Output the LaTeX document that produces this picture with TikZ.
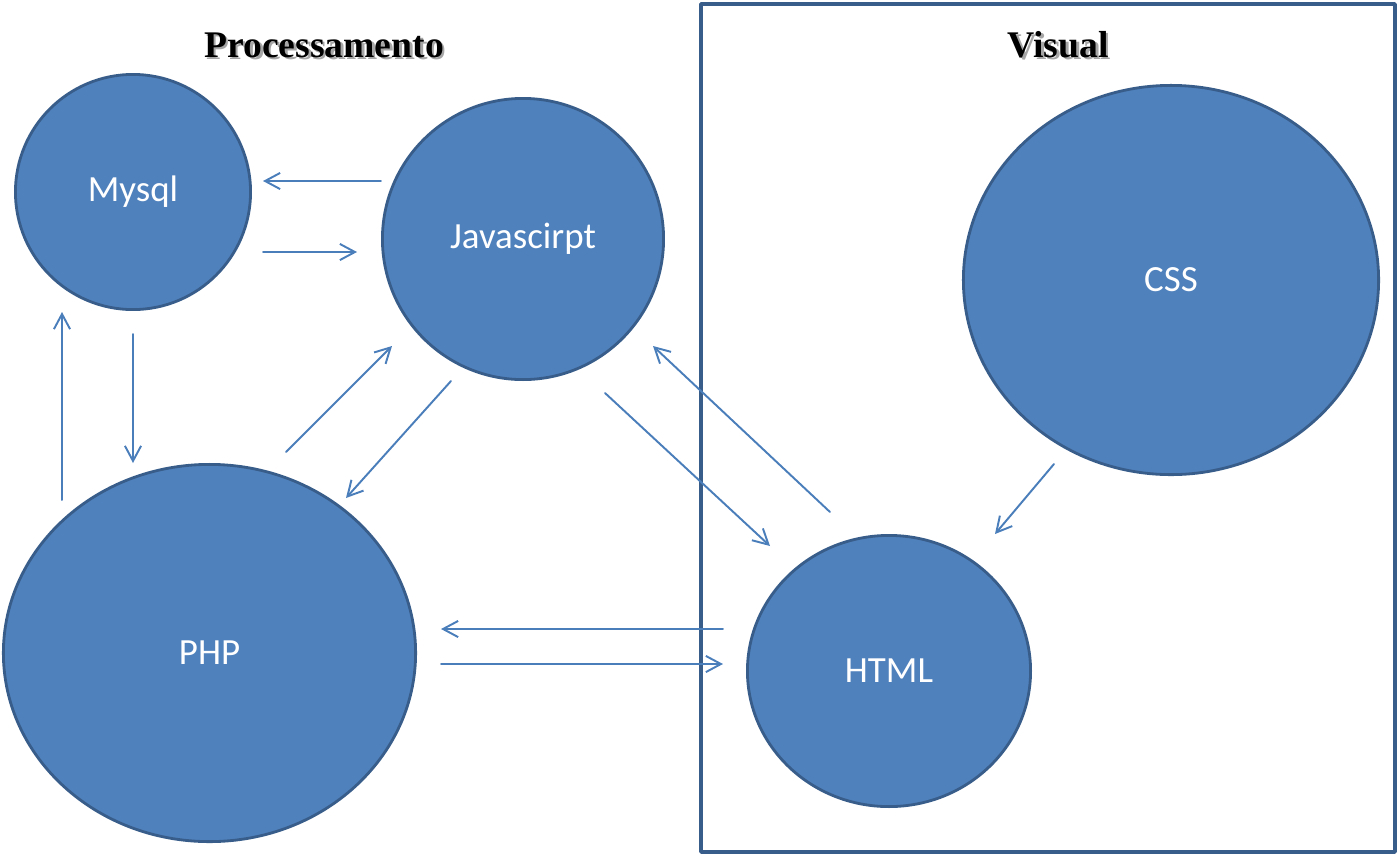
\documentclass[tikz,border=0pt]{standalone}
\usepackage{fontspec}
\setmainfont{Carlito}
\newfontfamily\titlefont{Liberation Serif}
\usepackage{xcolor}
\usepackage{tikz}
\usetikzlibrary{positioning,shapes.geometric,arrows.meta}

\definecolor{bubblefill}{HTML}{4F81BD}
\definecolor{bubbleline}{HTML}{385D8A}
\definecolor{flowline}{HTML}{4A7EBB}

% titulo com sombra
\newcommand\shadowtxt[1]{\makebox[0pt][l]{\hspace{0.8pt}\raisebox{-0.8pt}{\color{black!35}#1}}#1}

\begin{document}
\begin{tikzpicture}[x=0.01cm, y=-0.01cm, font=\fontsize{10.5}{12}\selectfont, line cap=round, line join=round]
	\tikzset{
		bubble/.style={ellipse, draw=bubbleline, line width=0.8pt, fill=bubblefill, text=white, inner sep=0pt},
		flow/.style={draw=flowline, line width=0.55pt, -{Straight Barb[length=4.3pt,width=4.6pt]}},
		heading/.style={anchor=base, font=\titlefont\bfseries\fontsize{10.7}{13}\selectfont}
	}
	\useasboundingbox (0,0) rectangle (1400,857);
	
	% ===== quadro "Visual" =====
	\draw[bubbleline, line width=1pt] (701,4) rectangle (1395,852);
	
	% ===== titulos =====
	\node[heading] (proc) at (324,57) {\shadowtxt{Processamento}};
	\node[heading] (vis) at (1058,57) {\shadowtxt{Visual}};
	
	% ===== circulos =====
	\node[bubble, minimum width=2.35cm, minimum height=2.35cm] (mysql) at (133,192) {Mysql};
	\node[bubble, minimum width=2.81cm, minimum height=2.81cm] (js) at (523,239) {\raisebox{-0.6pt}{Javascirpt}};
	\node[bubble, minimum width=4.15cm, minimum height=3.89cm] (css) at (1171,280) {CSS};
	\node[bubble, minimum width=4.12cm, minimum height=3.77cm] (php) at (209.5,653) {PHP};
	\node[bubble, minimum width=2.83cm, minimum height=2.71cm] (html) at (889,671) {HTML};
	
	% ===== pontas das setas =====
	\coordinate (jsmyA) at (381,181);  \coordinate (jsmyB) at (263,181);
	\coordinate (myjsA) at (263,252);  \coordinate (myjsB) at (357,252);
	\coordinate (myphA) at (133,334);  \coordinate (myphB) at (133,463);
	\coordinate (phmyA) at (62,500);   \coordinate (phmyB) at (62,312);
	\coordinate (phjsA) at (286,452);  \coordinate (phjsB) at (392,346);
	\coordinate (jsphA) at (451,381);  \coordinate (jsphB) at (346,498);
	\coordinate (jshtA) at (605,393);  \coordinate (jshtB) at (770,546);
	\coordinate (htjsA) at (830,512);  \coordinate (htjsB) at (653,346);
	\coordinate (cshtA) at (1054,464); \coordinate (cshtB) at (995,534);
	\coordinate (htphA) at (723,629);  \coordinate (htphB) at (441,629);
	\coordinate (phhtA) at (441,664);  \coordinate (phhtB) at (723,664);
	
	% ===== setas =====
	\foreach \a in {jsmy,myjs,myph,phmy,phjs,jsph,jsht,htjs,csht,htph,phht}{
		\draw[flow] (\a A) -- (\a B);
	}
\end{tikzpicture}
\end{document}
